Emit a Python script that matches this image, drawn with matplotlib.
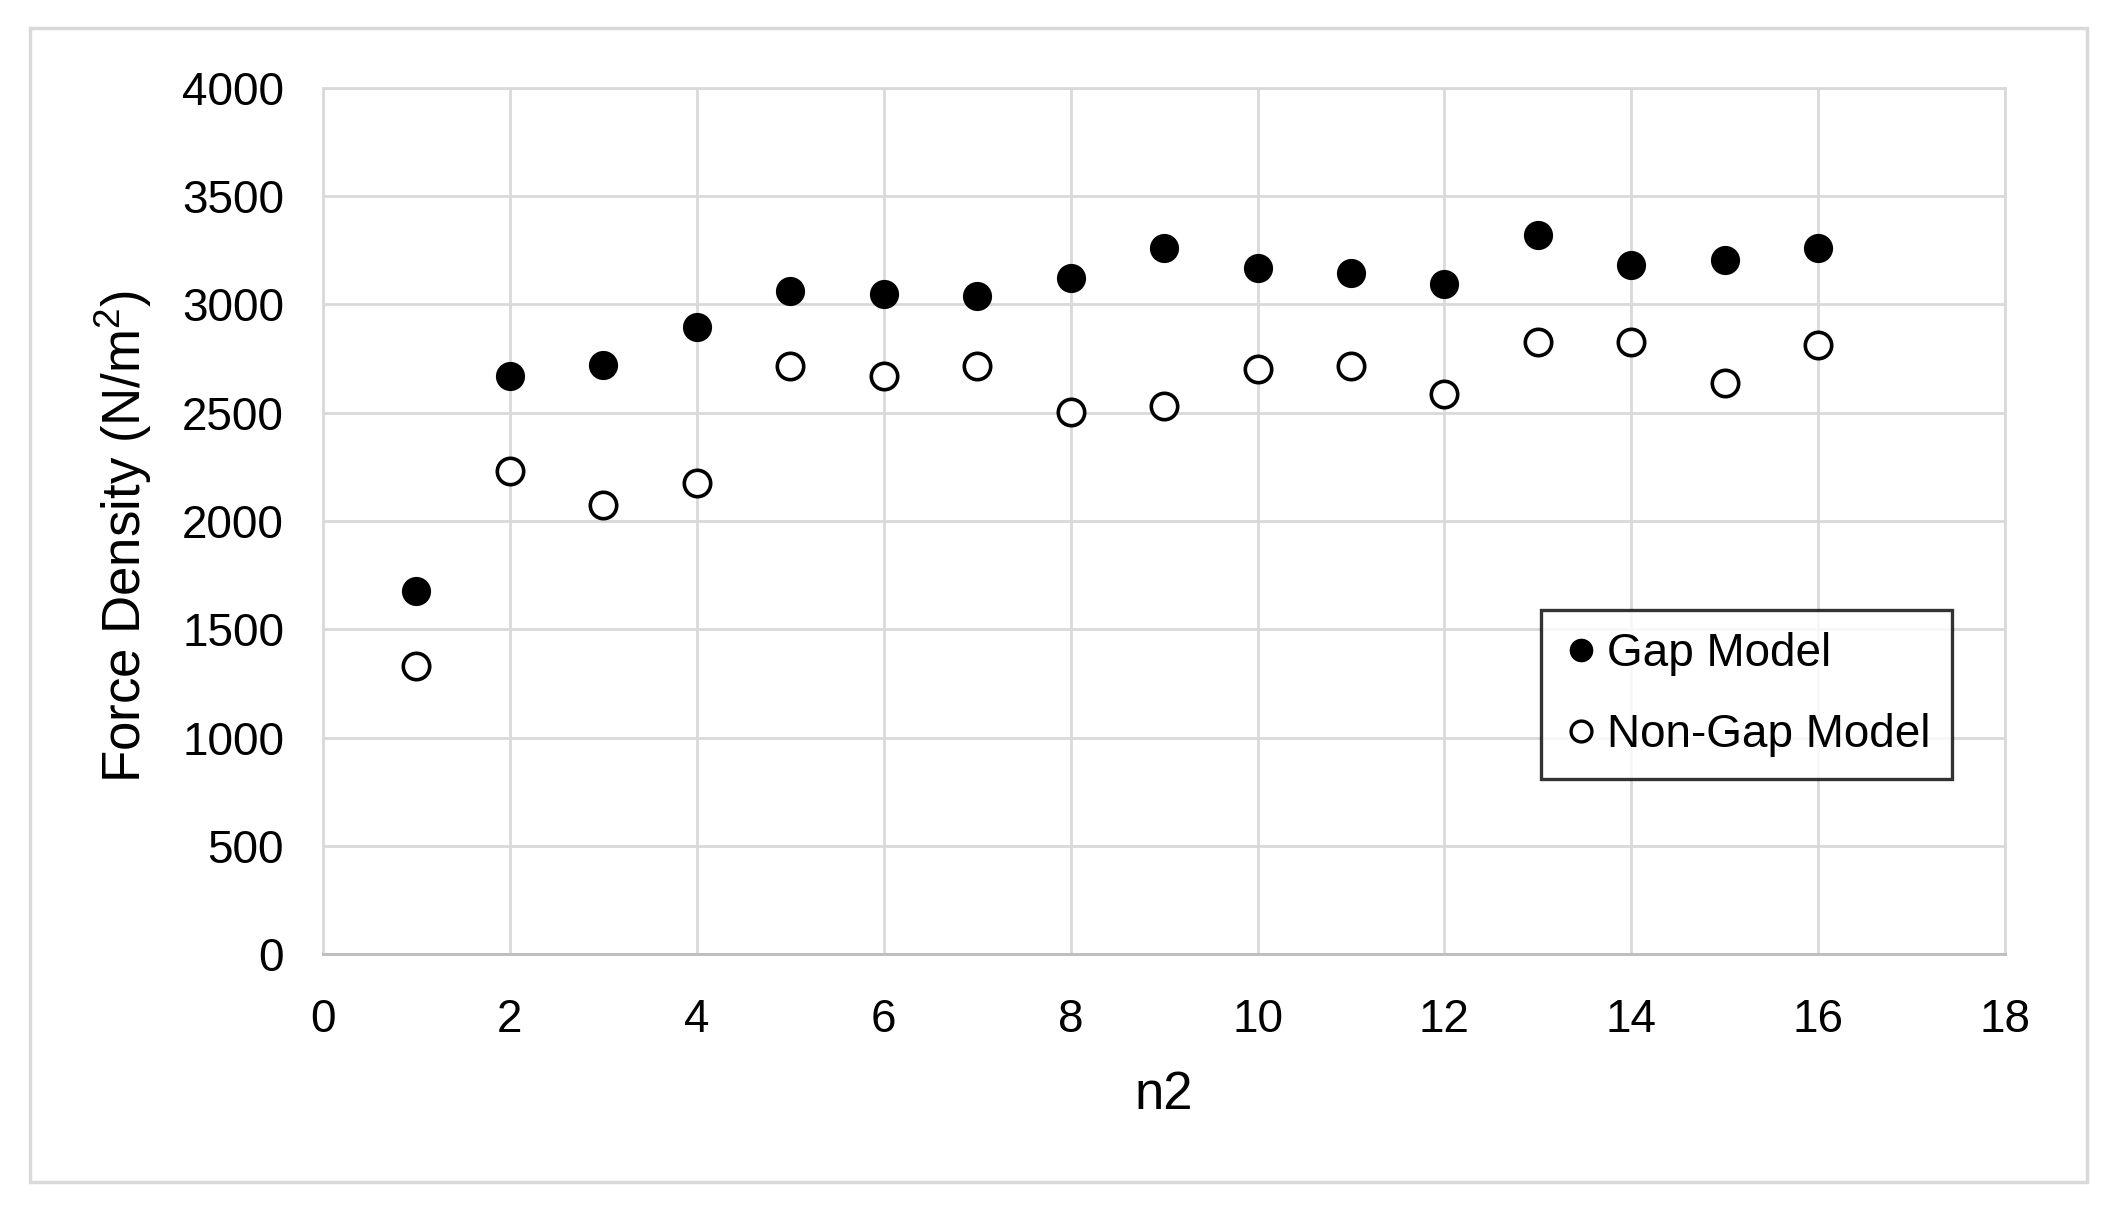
import matplotlib
matplotlib.use("Agg")
import matplotlib.pyplot as plt
from matplotlib.patches import Rectangle
from matplotlib.lines import Line2D

plt.rcParams['font.family'] = ['Liberation Sans', 'DejaVu Sans']
plt.rcParams['mathtext.default'] = 'regular'

# data
n2 = [1, 2, 3, 4, 5, 6, 7, 8, 9, 10, 11, 12, 13, 14, 15, 16]
gap_model = [1675, 2670, 2720, 2895, 3060, 3050, 3040, 3120, 3262, 3168, 3145, 3095, 3323, 3180, 3205, 3262]
non_gap_model = [1332, 2232, 2075, 2175, 2718, 2670, 2718, 2505, 2532, 2700, 2718, 2588, 2825, 2825, 2638, 2813]

x_ticks = [0, 2, 4, 6, 8, 10, 12, 14, 16, 18]
y_ticks = [0, 500, 1000, 1500, 2000, 2500, 3000, 3500, 4000]

grid_col = '#d9d9d9'

fig = plt.figure(figsize=(21.18, 12.13), dpi=100)
ax = fig.add_axes([0.1525, 0.2135, 0.7942, 0.714])

ax.plot(n2, gap_model, 'o', ls='none', ms=19.5, mfc='black', mec='black',
        mew=1.5, label='Gap Model', zorder=3)
ax.plot(n2, non_gap_model, 'o', ls='none', ms=19, mfc='white', mec='black',
        mew=2.6, label='Non-Gap Model', zorder=3)

ax.set_xlim(0, 18)
ax.set_ylim(0, 4000)
ax.set_xticks(x_ticks)
ax.set_yticks(y_ticks)
ax.grid(True, color=grid_col, lw=2)
ax.set_axisbelow(True)
for side in ['top', 'right', 'left']:
    ax.spines[side].set_color(grid_col)
    ax.spines[side].set_linewidth(2)
ax.spines['bottom'].set_color('#bfbfbf')
ax.spines['bottom'].set_linewidth(2.2)
ax.tick_params(length=0, labelsize=33, pad=28, colors='black')
ax.tick_params(axis='x', pad=32)

ax.set_xlabel('n2', fontsize=38, labelpad=20)
ax.set_ylabel('Force Density (N/m$^{2}$)', fontsize=38, labelpad=20)
ax.yaxis.label.set_y(0.482)

leg_handles = [
    Line2D([], [], marker='o', ls='none', ms=16, mfc='black', mec='black'),
    Line2D([], [], marker='o', ls='none', ms=15, mfc='white', mec='black', mew=2.4),
]
leg = ax.legend(leg_handles, ['Gap Model', 'Non-Gap Model'],
                loc='upper left', bbox_to_anchor=(1541 / 2118, 1 - 610 / 1213),
                bbox_transform=fig.transFigure, fontsize=33, frameon=True,
                fancybox=False, edgecolor='black', handletextpad=0.15,
                handlelength=0.8, borderpad=0.48, labelspacing=0.8,
                borderaxespad=0)
leg.get_frame().set_linewidth(2.4)

# outer chart border
fig.patches.append(Rectangle((30 / 2118, 1 - 1182 / 1213), (2087 - 30) / 2118,
                             (1182 - 28) / 1213, transform=fig.transFigure,
                             fill=False, ec=grid_col, lw=2.5))

fig.savefig('out.png', dpi=100, facecolor='white')
